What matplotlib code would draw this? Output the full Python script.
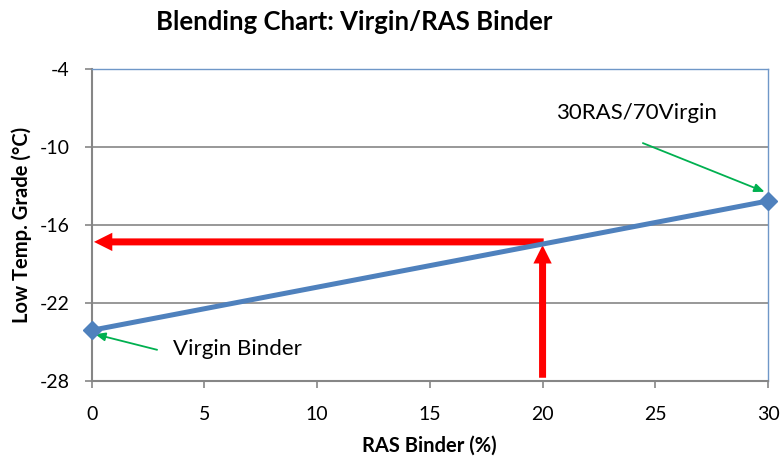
import matplotlib
matplotlib.use("Agg")
import matplotlib.pyplot as plt

# Data
ras_pct = [0, 30]
low_temp_grade = [-24.1, -14.15]
blend_ras = 20
blend_grade = -17.3
x_ticks = [0, 5, 10, 15, 20, 25, 30]
y_ticks = [-28, -22, -16, -10, -4]
title = "Blending Chart: Virgin/RAS Binder"
xlabel = "RAS Binder (%)"
ylabel = "Low Temp. Grade (°C)"

plt.rcParams['font.family'] = ['Lato', 'DejaVu Sans']

fig = plt.figure(figsize=(7.84, 4.63), dpi=100)
ax = fig.add_axes([91.7/784, 1-381/463, (768-91.7)/784, (381-69)/463])

ax.set_xlim(0, 30)
ax.set_ylim(-28, -4)
ax.set_xticks(x_ticks)
ax.set_yticks(y_ticks)
ax.set_xticklabels([str(v) for v in x_ticks])
ax.set_yticklabels([str(v) for v in y_ticks])

grid_c = '#868686'
ax.yaxis.grid(True, color=grid_c, lw=1.2)
ax.set_axisbelow(True)
for s in ['left', 'bottom']:
    ax.spines[s].set_color(grid_c)
    ax.spines[s].set_linewidth(1.5)
for s in ['top', 'right']:
    ax.spines[s].set_color('#6F97C8')
    ax.spines[s].set_linewidth(1.0)
ax.tick_params(axis='both', direction='out', length=5, width=1.2, color=grid_c,
               labelsize=14)
ax.tick_params(axis='y', pad=11)
ax.tick_params(axis='x', pad=13)

# Red arrows
red_style = 'simple,head_length=1.1,head_width=1.1,tail_width=0.42'
ax.annotate('', xy=(0.1, blend_grade), xytext=(blend_ras + 0.05, blend_grade),
            arrowprops=dict(arrowstyle=red_style, color='#FF0000', lw=0,
                            shrinkA=0, shrinkB=0, mutation_scale=12),
            zorder=2)
ax.annotate('', xy=(blend_ras, blend_grade - 0.25), xytext=(blend_ras, -27.75),
            arrowprops=dict(arrowstyle=red_style, color='#FF0000', lw=0,
                            shrinkA=0, shrinkB=0, mutation_scale=12),
            zorder=2)

# Main line
ax.plot(ras_pct, low_temp_grade, color='#4F81BD', lw=3.6, marker='D', ms=9.5,
        clip_on=False, zorder=4)

# Green annotations
green = '#00B050'
ax.annotate('', xy=(0.15, -24.4), xytext=(2.9, -25.6),
            arrowprops=dict(arrowstyle='-|>,head_length=0.6,head_width=0.25',
                            color=green, lw=1.3, shrinkA=0, shrinkB=0))
ax.text(3.6, -25.55, 'Virgin Binder', fontsize=16, va='center', ha='left')
ax.annotate('', xy=(29.85, -13.45), xytext=(24.45, -9.7),
            arrowprops=dict(arrowstyle='-|>,head_length=0.6,head_width=0.25',
                            color=green, lw=1.3, shrinkA=0, shrinkB=0),
            annotation_clip=False)
ax.text(20.6, -7.4, '30RAS/70Virgin', fontsize=16, va='center', ha='left')

fig.text(354/784, 1-22/463, title, fontsize=18.5, fontweight='bold',
         ha='center', va='center')
fig.text(429/784, 1-446/463, xlabel, fontsize=14.5, fontweight='bold',
         ha='center', va='center')
fig.text(22/784, 1-225/463, ylabel, fontsize=14.5, fontweight='bold',
         ha='center', va='center', rotation=90)

fig.savefig('out.png', dpi=100)
